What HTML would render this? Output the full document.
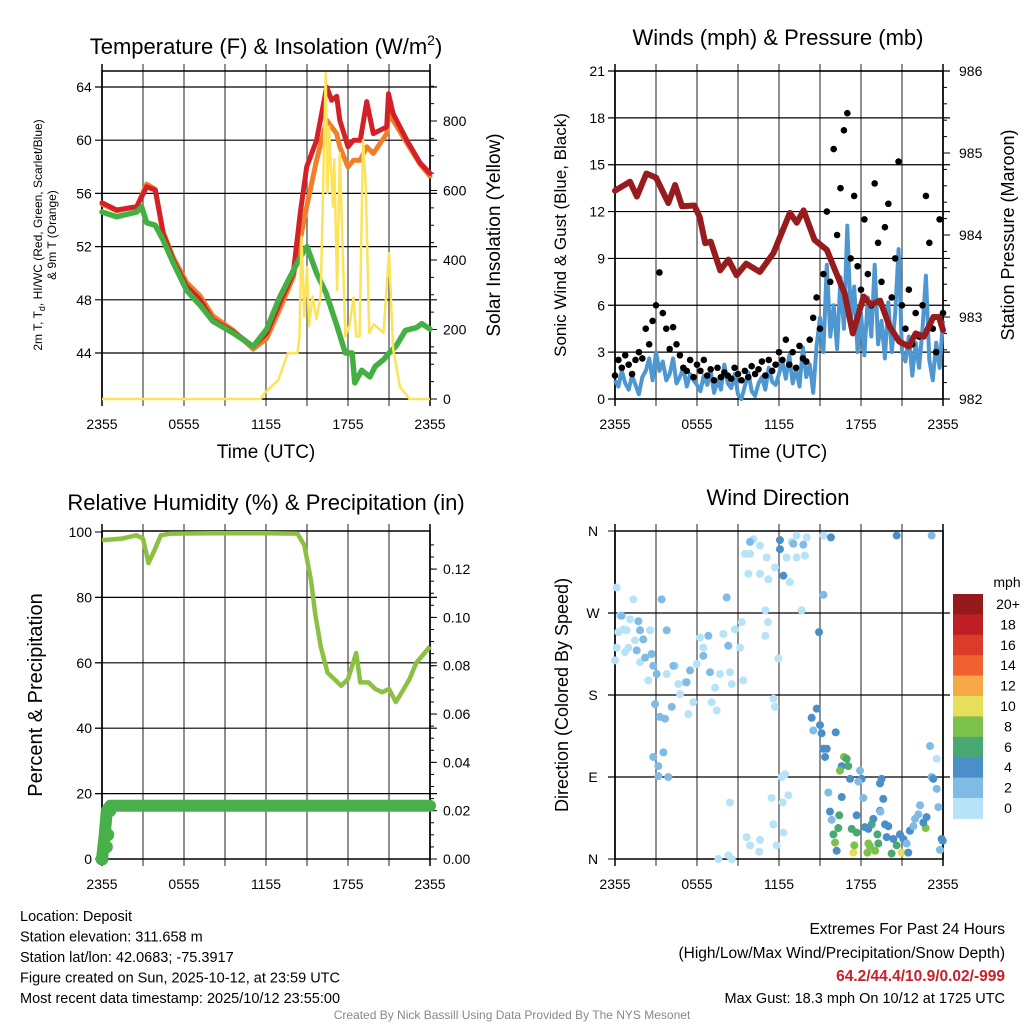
<!DOCTYPE html>
<html><head><meta charset="utf-8"><style>
html,body{margin:0;padding:0;background:#fff}
svg{display:block;font-family:"Liberation Sans",sans-serif}
</style></head><body>
<svg id="c" width="1024" height="1024" viewBox="0 0 1024 1024" xmlns="http://www.w3.org/2000/svg"></svg>
<script>
// ---------- DATA ----------
const xTickLabels = ["2355","0555","1155","1755","2355"];
// Temperature panel
const tHours  = [0,1.07,2.54,3.27,3.9,4.47,5.2,6.2,7.17,8.1,9.6,11.06,12.05,13.0,14.0,14.5,14.98,15.7,16.44,16.8,17.17,17.4,18.0,18.4,18.9,19.37,19.85,20.83,20.96,21.3,22.3,23.27,24];
const tRed    = [55.3,54.75,55.0,56.5,56.25,53.0,51.0,49.0,48.0,46.5,45.6,44.5,45.5,47.75,50.0,54.5,58.0,60.0,64.0,63.0,63.3,61.5,59.5,60.0,60.0,62.9,60.5,61.0,63.5,62.0,60.0,58.3,57.5];
const tOrange = [55.2,54.7,55.0,56.7,56.3,53.1,51.2,49.3,48.3,46.8,45.7,44.3,45.1,47.3,49.7,52.5,55.0,58.5,61.5,61.0,60.5,59.5,58.0,58.5,58.5,59.5,59.0,60.5,62.0,61.5,59.8,58.2,57.3];
const gHours  = [0,1.07,2.54,2.9,3.27,3.9,4.47,5.2,6.2,7.17,8.1,9.6,11.06,12.05,13,14,14.5,15,15.7,16.4,17.2,17.8,18.3,18.5,19,19.6,20,20.6,21,21.5,22.2,23,23.4,24];
const tGreen  = [54.6,54.25,54.6,55.0,53.8,53.6,52.5,50.8,48.7,47.6,46.4,45.5,44.5,45.8,48.2,50.2,51.2,52.0,50.0,48.5,46.0,44.0,44.0,41.75,42.7,42.2,43.0,43.5,44.0,44.5,45.7,45.9,46.2,45.8];
const sHours  = [0,11.6,11.9,12.9,13.6,14.3,14.45,14.6,14.8,15.0,15.15,15.4,15.7,16.0,16.37,16.5,16.6,16.9,17.0,17.2,17.4,17.8,18.1,18.4,18.6,18.85,19.1,19.3,19.55,19.9,20.6,21.0,21.3,21.8,22.5,24];
const solar   = [0,0,17,55,132,132,180,467,237,380,210,295,230,300,938,593,784,554,690,314,707,180,210,292,180,180,745,611,190,215,190,420,145,35,0,0];
// Wind panel (every 0.25 h)
const windSpd = [1.2,0.8,1.8,1.0,0.6,1.5,0.9,0.3,1.4,1.8,2.6,1.2,3.0,
 1.8,2.4,1.2,1.6,2.6,1.0,1.4,2.0,0.8,1.6,1.2,0.9,
 0.5,1.5,0.9,1.8,0.4,1.2,0.6,2.2,1.0,0.7,1.6,0.3,0,0.8,1.7,0.5,0.2,1.0,1.4,0.6,2.0,1.1,0.9,1.6,
 2.4,1.3,2.8,1.0,1.9,0.8,3.3,1.4,2.2,0.4,3.4,5.2,
 3.0,8.6,4.0,6.0,3.2,7.8,4.5,11.1,5.0,7.2,3.0,5.5,
 2.8,6.5,4.0,8.6,3.5,5.0,2.6,6.2,3.0,5.5,9.6,3.0,
 2.4,4.0,1.5,3.6,2.0,4.5,7.9,2.5,1.2,3.6,2.0,5.0];
const gustSpd = [1.5,2.5,2.0,2.8,2.2,1.6,2.5,3.0,2.6,4.5,3.5,5.0,6.0,
 8.1,5.5,4.5,3.2,4.6,3.5,2.8,2.0,1.8,2.5,1.4,2.2,
 1.8,2.5,1.5,1.9,1.2,2.0,1.4,1.7,1.5,1.3,2.0,1.6,1.2,1.8,1.4,2.1,1.6,1.9,2.4,1.5,2.5,1.8,2.2,3.0,
 2.5,3.8,2.2,3.0,2.0,3.4,2.6,2.4,3.8,5.2,6.5,4.5,
 8.0,12.0,7.5,16.0,10.5,13.5,17.2,18.3,9.0,13.0,8.5,7.0,
 11.5,8.0,6.0,13.8,10.0,7.5,11.0,12.5,6.5,9.0,15.2,6.0,
 4.5,7.0,3.5,5.5,4.0,6.0,13.0,10.0,4.5,3.0,11.5,5.5];
const pHours = [0,1.1,1.6,2.3,3.0,3.9,4.4,4.9,5.8,6.2,6.6,7.0,7.7,8.3,8.9,9.6,10.6,11.6,12.8,13.3,13.8,14.6,15.5,16.2,16.8,17.4,18.2,18.7,19.4,20.1,20.8,21.5,22.0,22.6,23.3,23.7,24];
const pres   = [984.54,984.65,984.47,984.75,984.7,984.39,984.61,984.35,984.36,984.22,983.9,983.92,983.57,983.7,983.51,983.65,983.55,983.78,984.27,984.15,984.3,983.94,983.82,983.53,983.29,982.8,983.25,983.15,983.2,982.88,982.7,982.64,982.8,982.76,983.0,983.0,982.84];
// RH / precip panel
const rhHours = [0,1.5,2.5,3.0,3.4,3.8,4.3,5,8,12,14.3,14.8,15.3,15.6,16,16.5,17.5,18,18.6,18.9,19.5,20,20.5,21,21.5,21.8,22.5,23,24];
const rh      = [97.5,98,99,98,90.5,94,99,99.5,99.6,99.6,99.5,96,85,75,65,57,53,55,63,54,54,52,51,52,48,50,55,60,65];
const prHours = [0,0.1,0.2,0.35,0.6,24];
const precip  = [0,0.005,0.01,0.02,0.022,0.022];
// Wind direction scatter
const dHours = [0.12,0.37,0.24,0.61,0.85,1.1,1.34,0.98,0.73,0.0,0.12,1.83,1.46,2.44,2.56,3.78,4.39,4.63,4.76,5.12,5.37,5.98,6.22,6.46,7.32,7.44,7.68,7.93,8.41,8.54,8.78,9.15,9.27,9.39,7.07,5.73,
 0.49,1.71,1.83,2.07,1.59,2.2,2.68,2.8,3.05,2.93,3.29,3.66,4.15,4.27,5.24,5.49,6.46,6.83,6.95,8.29,8.17,3.41,3.78,2.8,3.17,3.17,3.9,3.54,
 9.51,9.88,9.76,10.61,10.61,11.1,11.22,11.71,12.56,12.8,12.93,13.29,13.9,13.66,11.0,11.2,11.0,11.95,11.59,11.7,10.12,13.29,14.03,15.25,
 9.88,12.07,12.07,13.05,13.78,12.32,15.25,14.93,15.8,20.61,23.17,
 7.56,8.29,8.54,8.41,9.63,9.88,10.61,10.55,11.83,11.59,12.32,11.46,12.27,12.68,12.2,12.44,
 14.76,14.39,15.0,15.12,14.51,15.25,15.49,15.37,16.15,16.59,17.2,17.93,18.05,17.8,19.51,19.63,19.39,18.17,16.59,15.61,17.68,19.39,
 16.76,16.95,16.46,17.07,16.41,16.34,15.98,16.1,17.44,17.51,17.32,17.68,18.54,18.66,19.03,18.47,19.2,19.27,20.24,20.61,20.97,22.73,18.78,
 15.73,15.85,16.22,18.29,18.54,18.9,19.76,20.0,19.88,20.37,20.85,21.1,21.34,21.46,21.58,22.56,22.8,23.9,23.98,19.42,
 21.83,21.95,22.2,22.32,23.05,23.54,23.17,23.29,23.54,23.66,23.78];
const dDeg = [298,267,249,252,251,263,285,232,227,218,232,216,240,196,251,203,212,192,181,194,159,214,243,232,188,163,203,247,205,192,252,232,260,196,172,172,
 267,261,251,241,229,221,225,212,203,170,156,154,167,212,194,207,223,245,205,234,287,285,251,112,102,91,90,117,
 335,335,313,313,344,331,307,320,331,304,348,331,333,273,273,260,245,220,176,167,351,355,353,355,
 348,350,340,346,345,311,290,249,353,355,355,
 0,4,0,62,24,15,21,8,15,38,29,67,62,70,90,93,
 165,155,147,138,141,121,121,112,139,102,88,97,88,85,88,66,83,67,68,73,48,53,
 112,110,97,102,48,34,27,18,7,15,33,29,17,14,9,7,27,17,6,15,7,34,38,
 52,43,9,35,33,44,38,36,24,22,27,22,17,7,31,40,46,22,20,52,
 36,44,49,59,124,110,90,88,77,57,10];
const dSpd = [1,1,1,1,1,1,1,1,1,1,1,1,1,1,1,1,1,1,1,1,1,1,1,1,1,1,1,1,1,1,1,1,1,1,1,1,
 3,3,3,3,3,3,3,3,3,3,3,3,3,3,3,3,3,3,3,3,3,3,3,3,3,3,3,3,
 1,1,1,1,1,1,1,1,1,1,1,1,1,1,1,1,1,1,1,1,1,1,1,1,
 3,5,4,3,3,4,3,4,4,4,2,
 1,1,1,1,1,1,1,1,1,1,1,1,1,1,1,1,
 5,5,5,5,2,5,5,5,5,5,5,2,5,3,5,5,5,2,5,3,5,5,
 8,7,9,6,7,7,6,8,10,9,6,6,8,8,8,9,6,6,6,6,10,8,6,
 5,3,5,5,5,5,5,5,5,5,5,5,3,5,5,5,5,5,5,3,
 2,2,2,3,3,1,3,4,2,3,2];
const cbLabels = ["20+","18","16","14","12","10","8","6","4","2","0"];
const cbColors = ["#961a1c","#bf1e24","#dc3a2b","#ef6230","#f6a846","#e6df5a","#7cc14c","#4aa872","#4a8fc7","#7fbbe5","#b6e3f8"];

// ---------- DRAW ----------
const S = document.getElementById('c');
const NS = 'http://www.w3.org/2000/svg';
function el(tag, attrs, parent){const e=document.createElementNS(NS,tag);for(const k in attrs)e.setAttribute(k,attrs[k]);(parent||S).appendChild(e);return e;}
function txt(x,y,s,size,anchor,extra){const t=el('text',Object.assign({x:x,y:y,'font-size':size,'text-anchor':anchor||'middle',fill:'#000'},extra||{}));t.textContent=s;return t;}

const W=328,H=328;
function panel(x0,y0,name){
  const g=el('g',{});
  
  
  // vertical grid every 3h
  for(let i=1;i<8;i++){const x=x0+i*W/8;el('line',{x1:x,y1:y0-7,x2:x,y2:y0+H+7,stroke:'#555','stroke-width':1.3},g);}
  el('line',{x1:x0,y1:y0-7,x2:x0,y2:y0+H+7,stroke:'#000','stroke-width':1.5},g);
  el('line',{x1:x0+W,y1:y0-7,x2:x0+W,y2:y0+H+7,stroke:'#000','stroke-width':1.5},g);
  el('rect',{x:x0,y:y0,width:W,height:H,fill:'none',stroke:'#000','stroke-width':1.5},g);
  xTickLabels.forEach((l,i)=>{const t=txt(x0+i*W/4,y0+H+30,l,14);
    
    });
  return g;
}
function hline(x0,y,g){el('line',{x1:x0-7,y1:y,x2:x0+W+7,y2:y,stroke:'#000','stroke-width':1.2},g);}
function pathD(xs,ys){return xs.map((x,i)=>(i?'L':'M')+x.toFixed(1)+','+ys[i].toFixed(1)).join(' ');}

// ===== Panel 1: Temperature =====
{
  const x0=102,y0=71;
  const X=h=>x0+h/24*W, Y=T=>87+(64-T)*13.3, YS=s=>399-s*0.3475;
  const g=panel(x0,y0,'temperature-panel');
  [64,60,56,52,48,44].forEach(v=>{hline(x0,Y(v),g);txt(x0-18,Y(v)+5,String(v),14);});
  [0,200,400,600,800].forEach(v=>{el('line',{x1:x0+W,y1:YS(v),x2:x0+W+7,y2:YS(v),stroke:'#000'},g);txt(x0+W+13,YS(v)+5,String(v),14,'start');});
  for(let v=50;v<940;v+=50){el('line',{x1:x0+W,y1:YS(v),x2:x0+W+4,y2:YS(v),stroke:'#000'},g);}
  const o=el('path',{d:pathD(tHours.map(X),tOrange.map(Y)),fill:'none',stroke:'#f07f2a','stroke-width':5,'stroke-linejoin':'round','stroke-linecap':'round'},g);
  
  const r=el('path',{d:pathD(tHours.map(X),tRed.map(Y)),fill:'none',stroke:'#d42127','stroke-width':5,'stroke-linejoin':'round','stroke-linecap':'round'},g);
  
  const gr=el('path',{d:pathD(gHours.map(X),tGreen.map(Y)),fill:'none',stroke:'#44b044','stroke-width':5.5,'stroke-linejoin':'round','stroke-linecap':'round'},g);
  
  const y=el('path',{d:pathD(sHours.map(X),solar.map(YS)),fill:'none',stroke:'#fce35a','stroke-width':2.5,'stroke-linejoin':'round'},g);
  
  const t=txt(266,54,'Temperature (F) & Insolation (W/m',22);
  const ts=el('tspan',{dy:-9,'font-size':14});ts.textContent='2';t.appendChild(ts);
  const ts2=el('tspan',{dy:9});ts2.textContent=')';t.appendChild(ts2);
  const yl=el('text',{x:0,y:0,'font-size':12,'text-anchor':'middle',transform:'translate(42,235) rotate(-90)'});
  
  yl.innerHTML='2m T, T<tspan dy="3" font-size="9">d</tspan><tspan dy="-3">, HI/WC (Red, Green, Scarlet/Blue)</tspan>';
  const yl2=el('text',{x:0,y:0,'font-size':12,'text-anchor':'middle',transform:'translate(56,235) rotate(-90)'});yl2.textContent='& 9m T (Orange)';
  
  const yr=el('text',{x:0,y:0,'font-size':19,'text-anchor':'middle',transform:'translate(500,235) rotate(-90)'});yr.textContent='Solar Insolation (Yellow)';
  
  const xt=txt(266,458,'Time (UTC)',19);
}

// ===== Panel 2: Winds =====
{
  const x0=615,y0=71;
  const X=h=>x0+h/24*W, Y=v=>399-v*(328/21), YP=p=>399-(p-982)*82;
  const g=panel(x0,y0,'winds-panel');
  for(let v=0;v<=21;v+=3){hline(x0,Y(v),g);txt(x0-10,Y(v)+5,String(v),14,'end');}
  [982,983,984,985,986].forEach(p=>{el('line',{x1:x0+W,y1:YP(p),x2:x0+W+7,y2:YP(p),stroke:'#000'},g);txt(x0+W+16,YP(p)+5,String(p),14,'start');});
  for(let p=982.2;p<986;p+=0.2){el('line',{x1:x0+W,y1:YP(p),x2:x0+W+4,y2:YP(p),stroke:'#000'},g);}
  const hs=windSpd.map((_,i)=>i*0.25);
  const b=el('path',{d:pathD(hs.map(X),windSpd.map(Y)),fill:'none',stroke:'#4f97d1','stroke-width':4,'stroke-linejoin':'round'},g);
  
  gustSpd.forEach((v,i)=>{const c=el('circle',{cx:X(i*0.25),cy:Y(v),r:3.3,fill:'#000'},g);
    });
  const p=el('path',{d:pathD(pHours.map(X),pres.map(YP)),fill:'none',stroke:'#981b1e','stroke-width':6,'stroke-linejoin':'round','stroke-linecap':'round'},g);
  
  const t=txt(778,45,'Winds (mph) & Pressure (mb)',22);
  const yl=el('text',{x:0,y:0,'font-size':17,'text-anchor':'middle',transform:'translate(566,235) rotate(-90)'});yl.textContent='Sonic Wind & Gust (Blue, Black)';
  
  const yr=el('text',{x:0,y:0,'font-size':18,'text-anchor':'middle',transform:'translate(1014,235) rotate(-90)'});yr.textContent='Station Pressure (Maroon)';
  
  const xt=txt(778,458,'Time (UTC)',19);
}

// ===== Panel 3: RH =====
{
  const x0=102,y0=531;
  const X=h=>x0+h/24*W, Y=v=>859-v*3.27, YP=p=>859-p*2416;
  const g=panel(x0,y0,'humidity-panel');
  [0,20,40,60,80,100].forEach(v=>{if(v>0&&v<100)hline(x0,Y(v),g);el('line',{x1:x0-7,y1:Y(v),x2:x0,y2:Y(v),stroke:'#000'},g);txt(x0-10,Y(v)+5,String(v),14,'end');});
  [0,0.02,0.04,0.06,0.08,0.10,0.12].forEach(p=>{el('line',{x1:x0+W,y1:YP(p),x2:x0+W+7,y2:YP(p),stroke:'#000'},g);txt(x0+W+13,YP(p)+5,p.toFixed(2),14,'start');});
  for(let p=0.005;p<0.135;p+=0.005){el('line',{x1:x0+W,y1:YP(p),x2:x0+W+4,y2:YP(p),stroke:'#000'},g);}
  const pl=el('path',{d:pathD(prHours.map(X),precip.map(YP)),fill:'none',stroke:'#48b048','stroke-width':12,'stroke-linecap':'round','stroke-linejoin':'round'},g);
  
  precip.forEach((p,i)=>{if(i<4){const c=el('circle',{cx:X(prHours[i])+(i?3:0),cy:YP(p),r:6.5,fill:'#48b048'},g);
    }});
  const r=el('path',{d:pathD(rhHours.map(X),rh.map(Y)),fill:'none',stroke:'#8bc043','stroke-width':4.5,'stroke-linejoin':'round'},g);
  
  const t=txt(266,510,'Relative Humidity (%) & Precipitation (in)',22);
  const yl=el('text',{x:0,y:0,'font-size':20,'text-anchor':'middle',transform:'translate(42,695) rotate(-90)'});yl.textContent='Percent & Precipitation';
  
}

// ===== Panel 4: Wind direction =====
{
  const x0=615,y0=531;
  const X=h=>x0+h/24*W, Y=d=>859-d*(328/360);
  const g=panel(x0,y0,'wind-direction-panel');
  ['N','E','S','W','N'].forEach((l,i)=>{const y=Y(i*90);if(i>0&&i<4)hline(x0,y,g);el('line',{x1:x0-7,y1:y,x2:x0,y2:y,stroke:'#000'},g);txt(x0-22,y+5,l,14);});
  const colorFor=s=>cbColors[10-Math.min(10,Math.floor(s/2))];
  dHours.forEach((h,i)=>{const c=el('circle',{cx:X(h),cy:Y(dDeg[i]),r:4,fill:colorFor(dSpd[i])},g);
    });
  const t=txt(778,505,'Wind Direction',22);
  const yl=el('text',{x:0,y:0,'font-size':18,'text-anchor':'middle',transform:'translate(568,695) rotate(-90)'});yl.textContent='Direction (Colored By Speed)';
  
  // colorbar
  const cb=el('g',{});
  
  const mph=txt(1007,587,'mph',14);
  cbLabels.forEach((l,i)=>{const y=594+i*20.4;el('rect',{x:953,y:y,width:30,height:20.9,fill:cbColors[i]},cb);
    const lt=txt(1008,y+15,l,14);});
}

// ===== Footer text =====
const leftInfo=["Location: Deposit","Station elevation: 311.658 m","Station lat/lon: 42.0683; -75.3917","Figure created on Sun, 2025-10-12, at 23:59 UTC","Most recent data timestamp: 2025/10/12 23:55:00"];
leftInfo.forEach((s,i)=>{const t=txt(20,921+i*20.5,s,14.5,'start');});
const r1=txt(1005,934,'Extremes For Past 24 Hours',15.5,'end');
const r2=txt(1005,958,'(High/Low/Max Wind/Precipitation/Snow Depth)',15.5,'end');
const r3=txt(1005,981,'64.2/44.4/10.9/0.02/-999',15.5,'end',{fill:'#c8202a','font-weight':'bold'});
const r4=txt(1005,1003,'Max Gust: 18.3 mph On 10/12 at 1725 UTC',14.5,'end');
const f=txt(512,1019,'Created By Nick Bassill Using Data Provided By The NYS Mesonet',12,'middle',{fill:'#888'});
</script>
</body></html>
